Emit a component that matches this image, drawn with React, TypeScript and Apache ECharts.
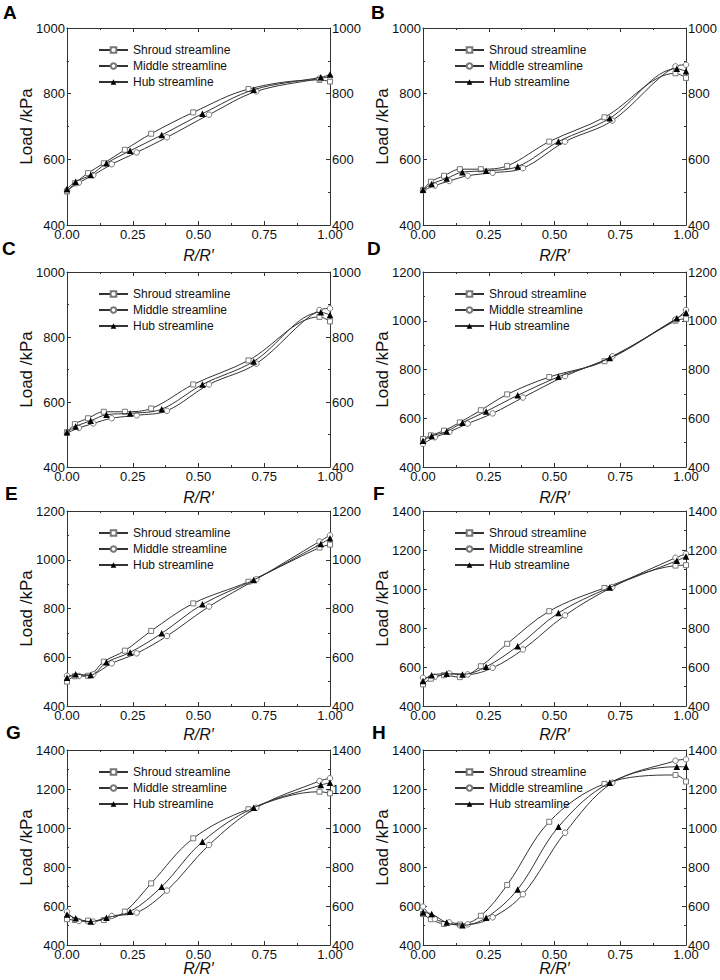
import React, { useEffect, useRef } from 'react';
import * as echarts from 'echarts';

const FONT = '"Liberation Sans", Arial, Helvetica, sans-serif';

// Series names
const seriesNames = ['Shroud streamline', 'Middle streamline', 'Hub streamline'];
const panelLabels = ['A', 'B', 'C', 'D', 'E', 'F', 'G', 'H'];
const yMaxes = [1000, 1000, 1000, 1200, 1200, 1400, 1400, 1400];
const xTickValues = [0, 0.25, 0.5, 0.75, 1.0];

// Radial positions (R/R') of the markers of each streamline
const xShroud = [0, 0.03, 0.08, 0.14, 0.22, 0.32, 0.48, 0.69, 0.96, 1.0];
const xMiddle = [0, 0.045, 0.1, 0.17, 0.265, 0.38, 0.54, 0.72, 0.96, 1.0];
const xHub = [0, 0.033, 0.09, 0.15, 0.24, 0.36, 0.515, 0.71, 0.965, 1.0];

// Load (kPa)
const shroudA = [502, 527, 558, 588, 629, 678, 743, 814, 842, 837];
const middleA = [505, 529, 552, 585, 621, 667, 736, 807, 846, 852];
const hubA = [510, 532, 552, 588, 626, 674, 739, 812, 850, 858];

const shroudB = [507, 532, 550, 570, 570, 580, 654, 728, 862, 848];
const middleB = [505, 520, 534, 550, 559, 573, 654, 718, 883, 888];
const hubB = [507, 525, 542, 561, 565, 578, 654, 725, 876, 868];

const shroudC = [507, 532, 550, 570, 570, 580, 654, 728, 862, 848];
const middleC = [505, 520, 534, 550, 559, 573, 654, 718, 883, 888];
const hubC = [507, 525, 542, 561, 565, 578, 654, 725, 876, 868];

const shroudD = [515, 530, 549, 583, 633, 698, 769, 834, 1000, 1008];
const middleD = [495, 522, 544, 578, 620, 685, 773, 854, 1005, 1044];
const hubD = [508, 527, 546, 582, 628, 694, 770, 847, 1010, 1033];

const shroudE = [500, 522, 524, 582, 627, 708, 821, 910, 1050, 1062];
const middleE = [524, 523, 530, 575, 616, 687, 808, 920, 1075, 1100];
const hubE = [516, 530, 527, 579, 620, 698, 817, 917, 1065, 1088];

const shroudF = [511, 540, 558, 548, 604, 719, 886, 1005, 1120, 1122];
const middleF = [545, 550, 567, 562, 596, 690, 865, 1010, 1160, 1180];
const hubF = [528, 558, 565, 562, 601, 707, 877, 1008, 1145, 1167];

const shroudG = [532, 528, 525, 528, 571, 716, 947, 1096, 1186, 1178];
const middleG = [571, 523, 520, 549, 566, 679, 913, 1104, 1241, 1255];
const hubG = [557, 537, 520, 540, 571, 699, 930, 1104, 1220, 1232];

const shroudH = [559, 532, 508, 505, 550, 708, 1032, 1226, 1272, 1238];
const middleH = [597, 533, 516, 506, 542, 660, 976, 1232, 1345, 1352];
const hubH = [567, 559, 515, 501, 540, 685, 1006, 1232, 1314, 1314];

const panelData = [
  [shroudA, middleA, hubA],
  [shroudB, middleB, hubB],
  [shroudC, middleC, hubC],
  [shroudD, middleD, hubD],
  [shroudE, middleE, hubE],
  [shroudF, middleF, hubF],
  [shroudG, middleG, hubG],
  [shroudH, middleH, hubH],
];
const seriesX = [xShroud, xMiddle, xHub];

// Layout
const colLeft = [67, 423];
const plotWidth = 263;
const rowTop = [28, 272, 511, 750];
const rowHeight = [197, 195, 195, 195];
const xNameGap = [22, 22, 20, 15];
const letterPos = [
  [3, 3], [371, 3], [2, 239], [367, 239], [5, 484], [373, 484], [6, 723], [372, 723],
];

const symbolDefs = [
  { symbol: 'rect', size: 5, fill: '#fff', stroke: '#777', width: 1 },
  { symbol: 'circle', size: 5.5, fill: '#fff', stroke: '#777', width: 1 },
  { symbol: 'triangle', size: 6.5, fill: '#000', stroke: '#000', width: 0 },
];

const AXIS_COLOR = '#333';
const TEXT_COLOR = '#111';

export default function App() {
  const ref = useRef<HTMLDivElement>(null);

  useEffect(() => {
    if (!ref.current) return;
    const chart = echarts.init(ref.current, null, { renderer: 'svg' });

    const grids: any[] = [];
    const xAxes: any[] = [];
    const yAxes: any[] = [];
    const legends: any[] = [];
    const series: any[] = [];
    const graphics: any[] = [];

    panelLabels.forEach((label, i) => {
      const row = Math.floor(i / 2);
      const col = i % 2;
      const left = colLeft[col];
      const top = rowTop[row];
      grids.push({ left, top, width: plotWidth, height: rowHeight[row], containLabel: false });

      const commonAxis = {
        gridIndex: i,
        type: 'value',
        nameMoveOverlap: false,
        axisLine: { show: true, onZero: false, lineStyle: { color: AXIS_COLOR, width: 1 } },
        axisTick: { show: true, inside: true, length: 4, lineStyle: { color: AXIS_COLOR, width: 1 } },
        minorTick: { show: true, splitNumber: 2, length: 2, lineStyle: { color: AXIS_COLOR, width: 1 } },
        splitLine: { show: false },
        minorSplitLine: { show: false },
      };

      xAxes.push({
        ...commonAxis,
        position: 'bottom',
        min: xTickValues[0],
        max: xTickValues[xTickValues.length - 1],
        interval: 0.25,
        name: 'R/R\u2032',
        nameLocation: 'middle',
        nameGap: xNameGap[row],
        nameTextStyle: { fontFamily: FONT, fontSize: 16, fontStyle: 'italic', color: TEXT_COLOR },
        axisLabel: {
          show: true,
          margin: 3,
          fontFamily: FONT,
          fontSize: 13,
          color: TEXT_COLOR,
          formatter: (v: number) => v.toFixed(2),
        },
      });
      xAxes.push({
        ...commonAxis,
        position: 'top',
        min: xTickValues[0],
        max: xTickValues[xTickValues.length - 1],
        interval: 0.25,
        axisLabel: { show: false },
      });

      const yLabel = {
        show: true,
        margin: 2,
        fontFamily: FONT,
        fontSize: 13,
        color: TEXT_COLOR,
        formatter: (v: number) => String(v),
      };

      yAxes.push({
        ...commonAxis,
        position: 'left',
        min: 400,
        max: yMaxes[i],
        interval: 200,
        name: 'Load /kPa',
        nameLocation: 'middle',
        nameGap: 32,
        nameTextStyle: { fontFamily: FONT, fontSize: 17, color: TEXT_COLOR },
        axisLabel: yLabel,
      });
      yAxes.push({
        ...commonAxis,
        position: 'right',
        min: 400,
        max: yMaxes[i],
        interval: 200,
        axisLabel: yLabel,
      });

      legends.push({
        orient: 'vertical',
        left: left + 31,
        top: top + 16,
        itemWidth: 29,
        itemHeight: 7,
        itemGap: 4,
        padding: 0,
        selectedMode: false,
        textStyle: { fontFamily: FONT, fontSize: 12, lineHeight: 12, color: TEXT_COLOR },
        data: seriesNames,
      });

      seriesNames.forEach((name, s) => {
        const xs = seriesX[s];
        const ys = panelData[i][s];
        const def = symbolDefs[s];
        series.push({
          type: 'line',
          name,
          xAxisIndex: i * 2,
          yAxisIndex: i * 2,
          data: xs.map((x, k) => [x, ys[k]]),
          smooth: 0.35,
          symbol: def.symbol,
          symbolSize: def.size,
          showSymbol: true,
          lineStyle: { color: '#333', width: 1 },
          itemStyle: {
            color: def.fill,
            borderColor: def.stroke,
            borderWidth: def.width,
          },
          emphasis: { disabled: true },
          z: 3 + s,
        });
      });

      graphics.push({
        type: 'text',
        left: letterPos[i][0],
        top: letterPos[i][1],
        style: {
          text: label,
          font: `bold 19px ${FONT}`,
          fill: '#000',
        },
      });
    });

    chart.setOption({
      animation: false,
      backgroundColor: '#fff',
      grid: grids,
      xAxis: xAxes,
      yAxis: yAxes,
      legend: legends,
      series,
      graphic: graphics,
      tooltip: { show: false },
    });

    return () => chart.dispose();
  }, []);

  return (
    <div
      ref={ref}
      style={{ position: 'absolute', left: 0, top: 0, width: 720, height: 980 }}
    />
  );
}
